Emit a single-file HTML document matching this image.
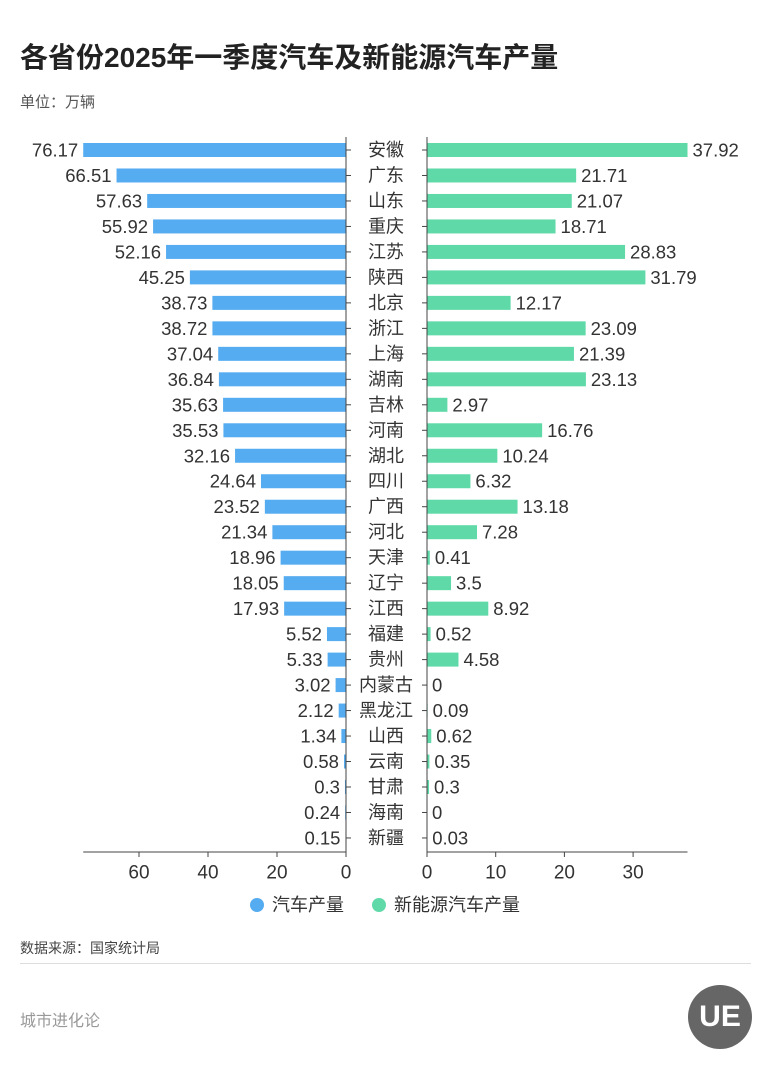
<!DOCTYPE html>
<html><head><meta charset="utf-8"><style>
body{margin:0;width:771px;height:1080px;background:#fff;font-family:"Liberation Sans","Noto Sans CJK SC",sans-serif;overflow:hidden;position:relative}
.t{position:absolute;white-space:nowrap}
</style></head><body>
<div class="t" style="left:20px;top:36px;font-size:28px;font-weight:bold;color:#222">各省份2025年一季度汽车及新能源汽车产量</div>
<div class="t" style="left:20px;top:91px;font-size:15px;color:#555">单位：万辆</div>
<svg id="chart" width="771" height="930" style="position:absolute;left:0;top:0"></svg>
<div class="t" style="left:20px;top:938px;font-size:14px;color:#444">数据来源：国家统计局</div>
<div style="position:absolute;left:20px;top:963px;width:731px;height:1px;background:#ddd"></div>
<div class="t" style="left:20px;top:1007px;font-size:16px;color:#999">城市进化论</div>
<div style="position:absolute;left:688px;top:985px;width:64px;height:64px;border-radius:50%;background:#666;color:#fff;font-weight:bold;font-size:30px;text-align:center;line-height:64px">UE</div>
<script>
const provinces=["安徽","广东","山东","重庆","江苏","陕西","北京","浙江","上海","湖南","吉林","河南","湖北","四川","广西","河北","天津","辽宁","江西","福建","贵州","内蒙古","黑龙江","山西","云南","甘肃","海南","新疆"];
const cars=[76.17,66.51,57.63,55.92,52.16,45.25,38.73,38.72,37.04,36.84,35.63,35.53,32.16,24.64,23.52,21.34,18.96,18.05,17.93,5.52,5.33,3.02,2.12,1.34,0.58,0.3,0.24,0.15];
const nev=[37.92,21.71,21.07,18.71,28.83,31.79,12.17,23.09,21.39,23.13,2.97,16.76,10.24,6.32,13.18,7.28,0.41,3.5,8.92,0.52,4.58,0,0.09,0.62,0.35,0.3,0,0.03];
const leftTicks=[60,40,20,0];
const rightTicks=[0,10,20,30];
const svg=document.getElementById('chart');
const NS='http://www.w3.org/2000/svg';
const L0=346,R0=427,ls=3.45,rs=6.87,y0=150,step=25.48,bh=14,axisY=852;
const xl=v=>L0-v*ls, xr=v=>R0+v*rs, yr=i=>y0+i*step;
function mk(tag,a){const e=document.createElementNS(NS,tag);for(const k in a)e.setAttribute(k,a[k]);svg.appendChild(e);return e;}
function txt(x,y,s,anchor,size,fill){const e=mk('text',{x:x,y:y,'text-anchor':anchor,'font-size':size,fill:fill,'dominant-baseline':'central'});e.textContent=s;return e;}
provinces.forEach((p,i)=>{
 const y=yr(i);
 const b1=mk('rect',{x:xl(cars[i]),y:y-bh/2,width:cars[i]*ls,height:bh,fill:'#56acf0'});
 
 
 const b2=mk('rect',{x:R0,y:y-bh/2,width:nev[i]*rs,height:bh,fill:'#5fd9a8'});
 
 
 const t1=txt(xl(cars[i])-5,y,String(cars[i]),'end',18.5,'#333');
 
 
 const t2=txt(xr(nev[i])+5,y,String(nev[i]),'start',18.5,'#333');
 
 
 const t3=txt(386,y,p,'middle',18,'#333');
 
 
 mk('line',{x1:L0,x2:L0+5,y1:y,y2:y,stroke:'#444'});
 mk('line',{x1:R0-5,x2:R0,y1:y,y2:y,stroke:'#444'});
});
const a1=mk('line',{x1:L0,x2:L0,y1:137,y2:axisY,stroke:'#444'});


const a2=mk('line',{x1:R0,x2:R0,y1:137,y2:axisY,stroke:'#444'});


const a3=mk('line',{x1:xl(Math.max(...cars)),x2:L0,y1:axisY,y2:axisY,stroke:'#444'});


const a4=mk('line',{x1:R0,x2:xr(Math.max(...nev)),y1:axisY,y2:axisY,stroke:'#444'});


leftTicks.forEach(v=>{mk('line',{x1:xl(v),x2:xl(v),y1:axisY,y2:axisY+5,stroke:'#444'});
 const t=txt(xl(v),axisY+21,String(v),'middle',19,'#333');
 
 });
rightTicks.forEach(v=>{mk('line',{x1:xr(v),x2:xr(v),y1:axisY,y2:axisY+5,stroke:'#444'});
 const t=txt(xr(v),axisY+21,String(v),'middle',19,'#333');
 
 });
const c1=mk('circle',{cx:257,cy:905,r:7,fill:'#56acf0'});


const l1=txt(272,905,'汽车产量','start',18,'#333');


const c2=mk('circle',{cx:379,cy:905,r:7,fill:'#5fd9a8'});


const l2=txt(394,905,'新能源汽车产量','start',18,'#333');


</script>
</body></html>
